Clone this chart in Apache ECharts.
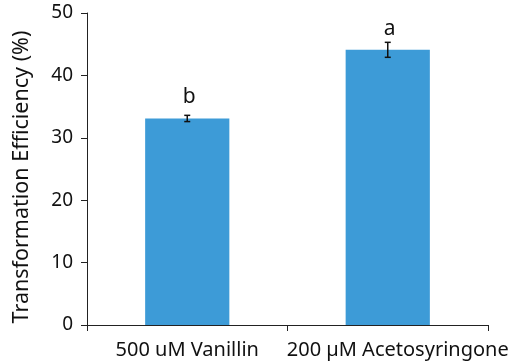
<!DOCTYPE html>
<html>
<head>
<meta charset="utf-8">
<script src="https://cdn.jsdelivr.net/npm/echarts@6/dist/echarts.min.js"></script>
<style>
  html, body { margin: 0; padding: 0; background: #fff; }
  #chart { width: 512px; height: 362px; }
</style>
</head>
<body>
<div id="chart"></div>
<script>
const categories = ["500 uM Vanillin", "200 \u00b5M Acetosyringone"];
const values = [33.1, 44.1];
const errors = [0.5, 1.2];
const letters = ["b", "a"];
const yTicks = [0, 10, 20, 30, 40, 50];

const chart = echarts.init(document.getElementById("chart"));
const fontFamily = "'Noto Sans', sans-serif";

// the long second label sits a little right of its band, as in the original
const labelShift = [0, 20];

const option = {
  animation: false,
  grid: { left: 87, right: 24, top: 13, bottom: 37 },
  xAxis: {
    type: "category",
    data: categories.map((c, i) => ({
      value: c,
      textStyle: { padding: [0, 0, 0, labelShift[i]] },
    })),
    axisLine: { lineStyle: { color: "#222", width: 1 } },
    axisTick: { show: true, length: 6, lineStyle: { color: "#222" } },
    axisLabel: {
      color: "#111", fontSize: 20, fontFamily: fontFamily, margin: 15,
      interval: 0, hideOverlap: false,
    },
  },
  yAxis: {
    type: "value",
    min: yTicks[0],
    max: yTicks[yTicks.length - 1],
    interval: 10,
    name: "Transformation Efficiency (%)",
    nameLocation: "middle",
    nameGap: 54,
    nameTextStyle: { color: "#111", fontSize: 21.5, fontFamily: fontFamily, padding: [0, 16, 0, 0] },
    axisLine: { show: true, lineStyle: { color: "#222", width: 1 } },
    axisTick: { show: true, length: 6, lineStyle: { color: "#222" } },
    axisLabel: { color: "#111", fontSize: 19, fontFamily: fontFamily, margin: 14 },
    splitLine: { show: false },
  },
  series: [
    {
      type: "bar",
      data: values,
      barWidth: "42%",
      itemStyle: { color: "#3d9bd7" },
      silent: true,
    },
    {
      type: "custom",
      data: values.map((v, i) => [i, v, errors[i]]),
      z: 5,
      renderItem: function (params, api) {
        const i = api.value(0);
        const v = api.value(1);
        const e = api.value(2);
        const top = api.coord([i, v]);
        const hi = api.coord([i, v + e]);
        const lo = api.coord([i, v - e]);
        const cap = 3;
        return {
          type: "group",
          children: [
            { type: "line", shape: { x1: hi[0], y1: hi[1], x2: lo[0], y2: lo[1] }, style: { stroke: "#111", lineWidth: 1.5 } },
            { type: "line", shape: { x1: hi[0] - cap, y1: hi[1], x2: hi[0] + cap, y2: hi[1] }, style: { stroke: "#111", lineWidth: 1.5 } },
            { type: "line", shape: { x1: lo[0] - cap, y1: lo[1], x2: lo[0] + cap, y2: lo[1] }, style: { stroke: "#111", lineWidth: 1.5 } },
            {
              type: "text",
              x: top[0] + 2,
              y: top[1] - 21,
              style: {
                text: letters[params.dataIndex],
                fill: "#111",
                font: "21px 'Noto Sans', sans-serif",
                align: "center",
                verticalAlign: "middle",
              },
            },
          ],
        };
      },
    },
  ],
};

chart.setOption(option);
</script>
</body>
</html>
